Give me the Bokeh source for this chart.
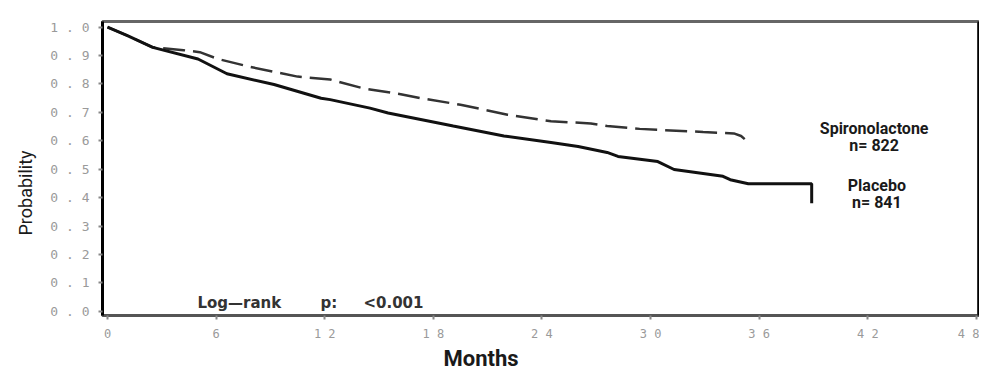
from bokeh.plotting import figure
from bokeh.models import Range1d, LinearAxis, FixedTicker, Label, Title
from bokeh.embed import file_html
from bokeh.resources import INLINE

# ---- data ----
placebo_months = [0, 1.1, 2.5, 5.0, 6.6, 9.2, 11.8, 12.3, 14.5, 15.5, 19.1, 21.9,
                  24.5, 26.0, 27.6, 28.2, 30.4, 31.3, 34.0, 34.4, 35.4, 38.9, 38.9]
placebo_prob = [1.0, 0.97, 0.929, 0.888, 0.836, 0.798, 0.75, 0.745, 0.715, 0.698, 0.652, 0.617,
                0.594, 0.58, 0.559, 0.545, 0.527, 0.499, 0.475, 0.463, 0.449, 0.449, 0.38]

spiro_months = [0, 1.1, 2.5, 4.2, 5.1, 6.1, 7.9, 10.5, 12.3, 14.1, 16.2, 17.3, 19.5,
                22.1, 24.5, 26.7, 27.6, 29.4, 32.9, 34.6, 35.0, 35.2]
spiro_prob = [1.0, 0.97, 0.929, 0.919, 0.912, 0.888, 0.86, 0.826, 0.816, 0.785, 0.764, 0.75, 0.727,
              0.692, 0.669, 0.661, 0.652, 0.642, 0.631, 0.626, 0.617, 0.606]

x_ticks = [0, 6, 12, 18, 24, 30, 36, 42, 48]
x_tick_labels = ["0", "6", "1 2", "1 8", "2 4", "3 0", "3 6", "4 2", "4 8"]
y_ticks = [0.0, 0.1, 0.2, 0.3, 0.4, 0.5, 0.6, 0.7, 0.8, 0.9, 1.0]
y_tick_labels = ["0 . 0", "0 . 1", "0 . 2", "0 . 3", "0 . 4", "0 . 5",
                 "0 . 6", "0 . 7", "0 . 8", "0 . 9", "1 . 0"]

x_title = "Months"
y_title = "Probability"
group_names = ["Spironolactone", "Placebo"]
group_n = ["n= 822", "n= 841"]
logrank_parts = ["Log\u2014rank", "p:", "<0.001"]

p = figure(width=979, height=370, output_backend="svg", toolbar_location=None,
           x_range=Range1d(-0.276, 48.17), y_range=Range1d(-0.015, 1.02),
           min_border_left=102, min_border_right=0, min_border_top=21, min_border_bottom=53,
           background_fill_color="white", border_fill_color="white")
p.grid.visible = False
p.outline_line_color = "#666666"
p.outline_line_width = 3

# x axis
xa = p.xaxis[0]
xa.ticker = FixedTicker(ticks=x_ticks)
xa.major_label_overrides = {t: l for t, l in zip(x_ticks, x_tick_labels)}
xa.minor_tick_line_color = None
xa.major_tick_in = 0
xa.major_tick_out = 4
xa.major_tick_line_color = "#888888"
xa.major_tick_line_width = 2
xa.axis_line_color = "#555555"
xa.axis_line_width = 3
xa.major_label_text_font = "DejaVu Sans Mono"
xa.major_label_text_font_size = "12px"
xa.major_label_text_color = "#9a9a9a"
xa.major_label_standoff = 7

# y axis
ya = p.yaxis[0]
ya.ticker = FixedTicker(ticks=y_ticks)
ya.major_label_overrides = {t: l for t, l in zip(y_ticks, y_tick_labels)}
ya.minor_tick_line_color = None
ya.major_tick_in = 0
ya.major_tick_out = 4
ya.major_tick_line_color = "#888888"
ya.major_tick_line_width = 2
ya.axis_line_color = "black"
ya.axis_line_width = 3
ya.major_label_text_font = "DejaVu Sans Mono"
ya.major_label_text_font_size = "13px"
ya.major_label_text_color = "#9a9a9a"
ya.major_label_standoff = 9

# right border as a plain black axis line
ra = LinearAxis(ticker=FixedTicker(ticks=[]), axis_line_color="black", axis_line_width=4,
                major_tick_line_color=None, minor_tick_line_color=None,
                major_label_text_font_size="0px", major_label_standoff=0,
                major_tick_out=0, minor_tick_out=0)
p.add_layout(ra, "right")

# axis titles
p.add_layout(Title(text=x_title, align="left", offset=341, standoff=0,
                   text_font="Roboto", text_font_size="22px", text_font_style="bold",
                   text_color="#1a1a1a", text_line_height=1.0), "below")
p.add_layout(Title(text=y_title, align="left", offset=80, standoff=24,
                   text_font="Roboto", text_font_size="18px", text_font_style="normal",
                   text_color="#1a1a1a"), "left")

# curves
p.line(spiro_months, spiro_prob, line_color="#333333", line_width=2.5, line_dash="22 8")
p.line(placebo_months, placebo_prob, line_color="#111111", line_width=3)

# annotations
lab_x = [42.35, 42.5]
lab_y_name = [0.645, 0.443]
lab_y_n = [0.582, 0.384]
for i in range(2):
    p.add_layout(Label(x=lab_x[i], y=lab_y_name[i], text=group_names[i], text_align="center",
                       text_baseline="middle", text_font="Roboto",
                       text_font_size="16px", text_font_style="bold", text_color="#1a1a1a"))
    p.add_layout(Label(x=lab_x[i], y=lab_y_n[i], text=group_n[i], text_align="center",
                       text_baseline="middle", text_font="Roboto",
                       text_font_size="16px", text_font_style="bold", text_color="#1a1a1a"))

logrank_x = [4.97, 11.77, 14.14]
for xx, tt in zip(logrank_x, logrank_parts):
    p.add_layout(Label(x=xx, y=0.03, text=tt, text_align="left", text_baseline="middle",
                       text_font="DejaVu Sans", text_font_size="15px", text_font_style="bold",
                       text_color="#333333"))

open("out.html", "w").write(file_html(p, INLINE))
